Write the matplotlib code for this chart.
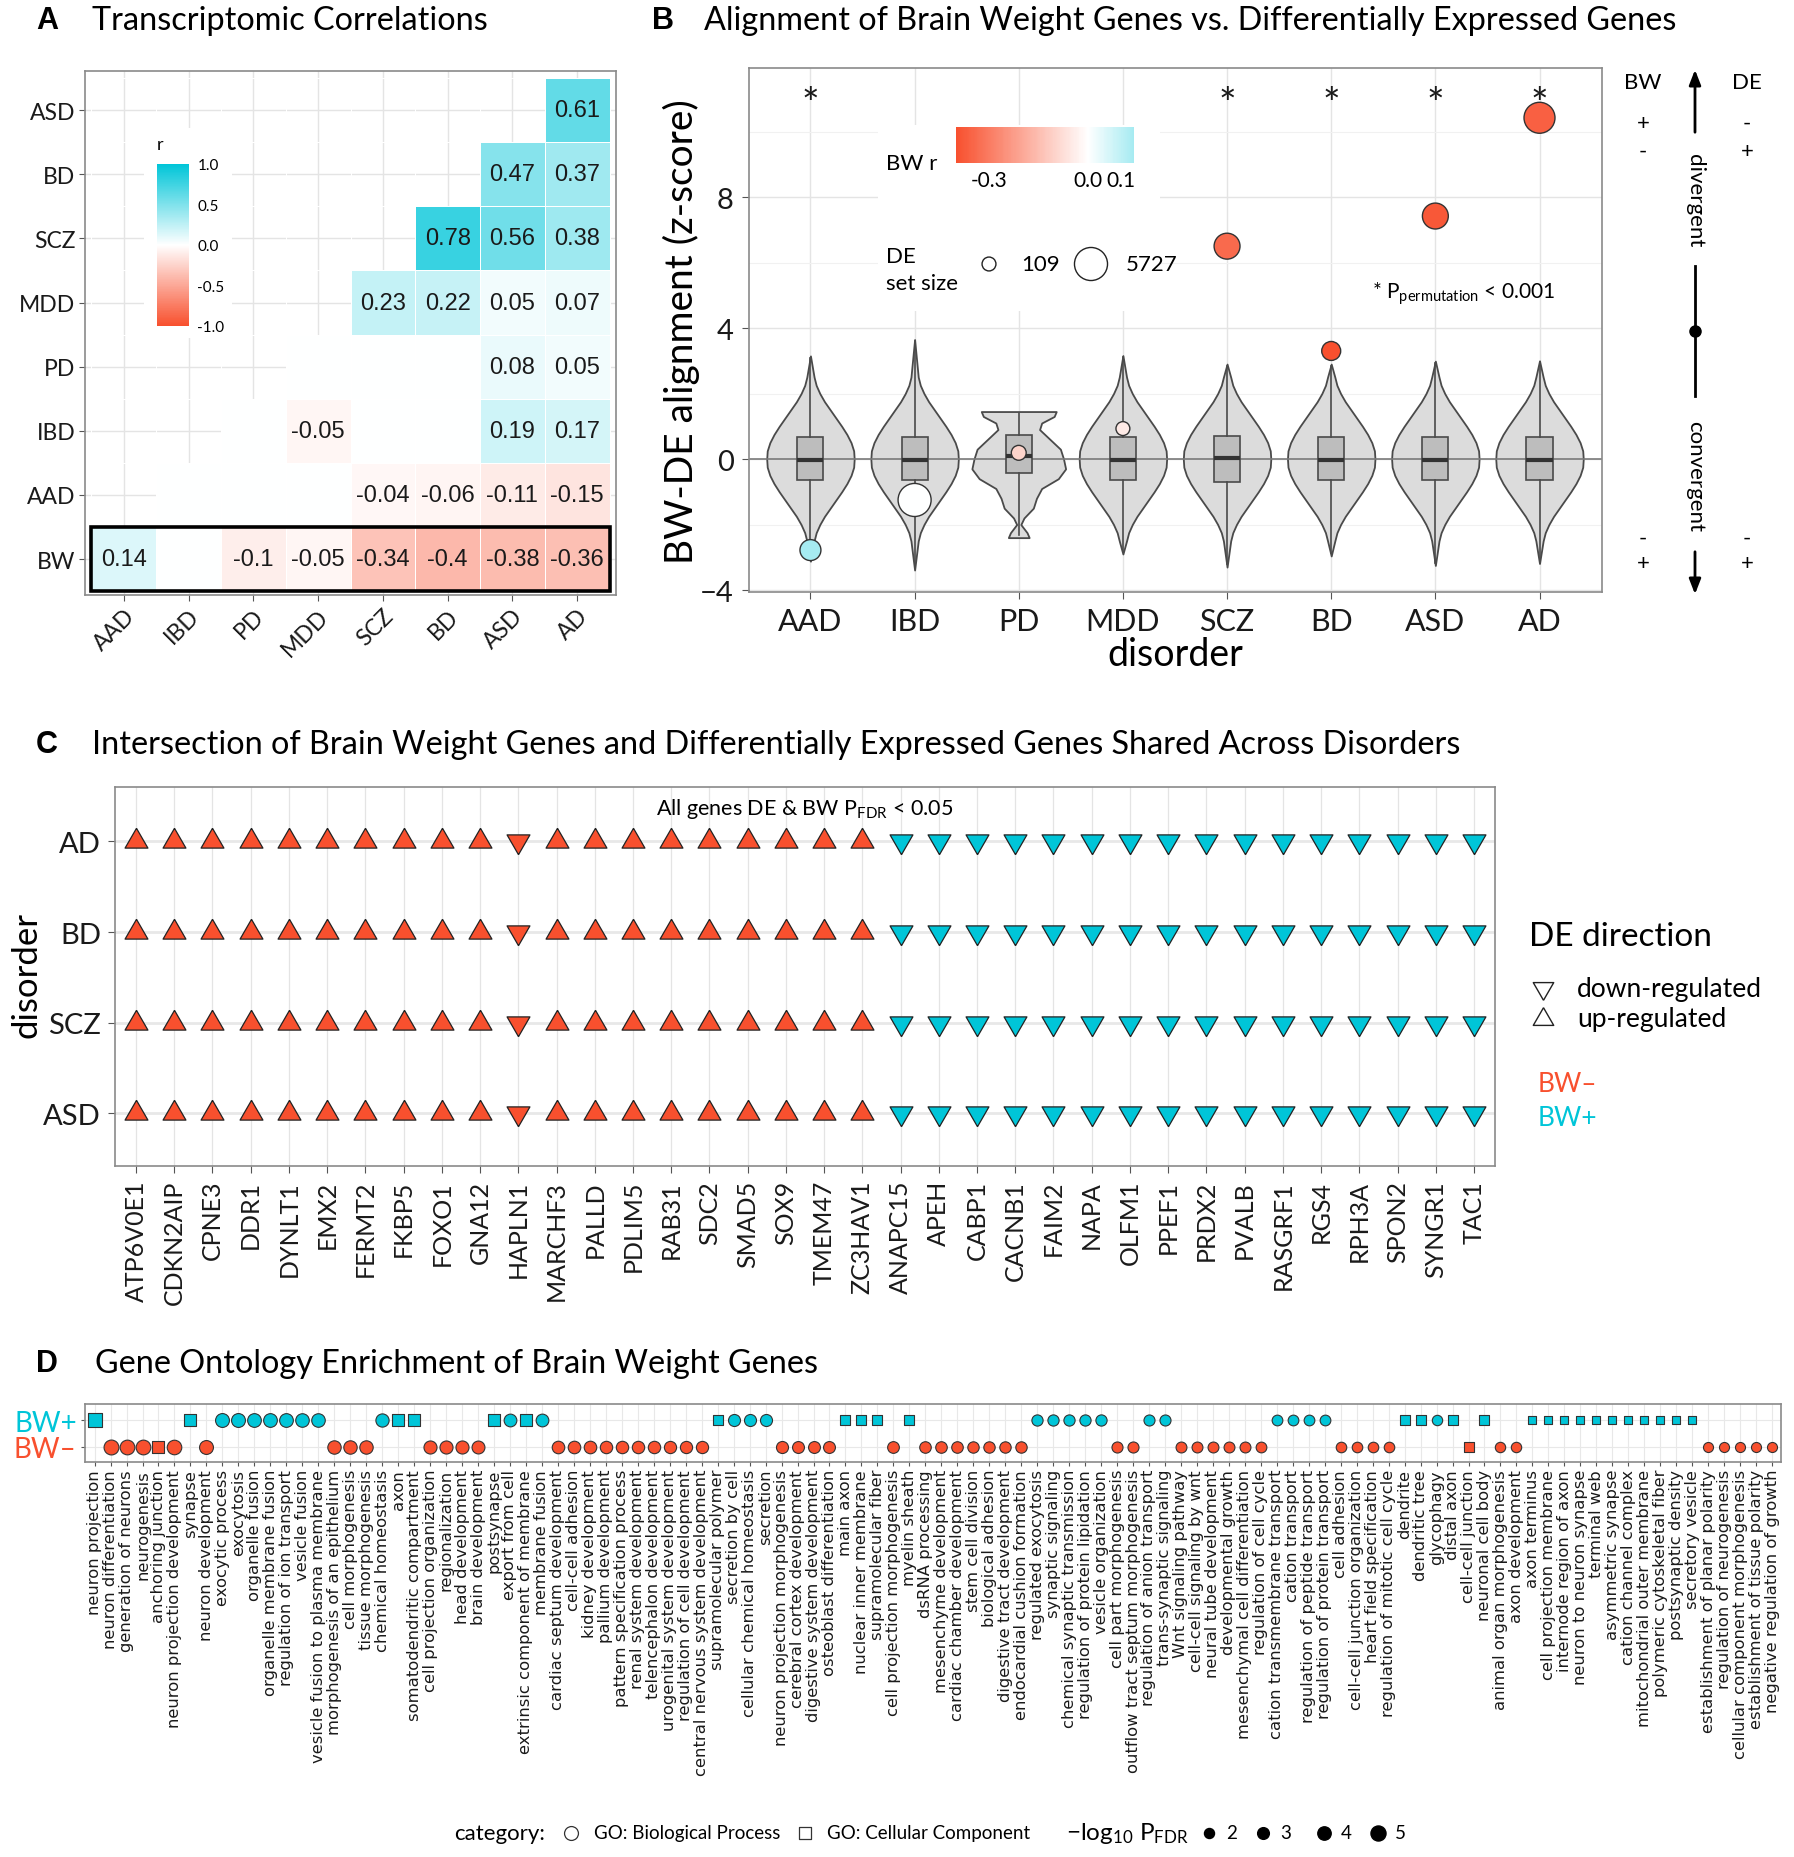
import numpy as np
import matplotlib.pyplot as plt
import matplotlib as mpl
from matplotlib.colors import LinearSegmentedColormap, Normalize
from matplotlib.patches import Rectangle

plt.rcParams['font.family'] = ['Lato', 'DejaVu Sans']
plt.rcParams['mathtext.fontset'] = 'custom'
plt.rcParams['mathtext.rm'] = 'Lato'
plt.rcParams['mathtext.it'] = 'Lato:italic'
plt.rcParams['mathtext.bf'] = 'Lato:bold'

RED = '#F8502E'
CYAN = '#00C5D8'
cmap_rw = LinearSegmentedColormap.from_list('rwc', [RED, 'white', CYAN])
nan = np.nan

# ---------------- A: transcriptomic correlations
a_cols = ['AAD', 'IBD', 'PD', 'MDD', 'SCZ', 'BD', 'ASD', 'AD']
a_rows = ['BW', 'AAD', 'IBD', 'PD', 'MDD', 'SCZ', 'BD', 'ASD']   # bottom to top
corr_r = [
    [0.14, nan, -0.1, -0.05, -0.34, -0.4, -0.38, -0.36],   # BW
    [nan, nan, nan, nan, -0.04, -0.06, -0.11, -0.15],       # AAD
    [nan, nan, nan, -0.05, nan, nan, 0.19, 0.17],           # IBD
    [nan, nan, nan, nan, nan, nan, 0.08, 0.05],             # PD
    [nan, nan, nan, nan, 0.23, 0.22, 0.05, 0.07],           # MDD
    [nan, nan, nan, nan, nan, 0.78, 0.56, 0.38],            # SCZ
    [nan, nan, nan, nan, nan, nan, 0.47, 0.37],             # BD
    [nan, nan, nan, nan, nan, nan, nan, 0.61],              # ASD
]

# ---------------- B: alignment z-scores
b_dis = ['AAD', 'IBD', 'PD', 'MDD', 'SCZ', 'BD', 'ASD', 'AD']
obs_z = [-2.78, -1.25, 0.19, 0.93, 6.5, 3.3, 7.42, 10.42]
bw_r = [0.14, 0.0, -0.1, -0.05, -0.34, -0.4, -0.38, -0.36]
de_size = [1650, 5727, 290, 109, 3100, 1150, 3100, 4900]
signif = [True, False, False, False, True, True, True, True]
null_top = [3.15, 3.65, 1.45, 3.16, 2.9, 2.9, 2.99, 3.0]
null_bot = [-3.12, -3.39, -2.4, -2.9, -3.3, -2.96, -3.25, -3.19]
box_q1 = [-0.65, -0.65, -0.44, -0.65, -0.69, -0.65, -0.65, -0.63]
box_med = [-0.03, -0.03, 0.1, -0.03, 0.03, -0.03, -0.03, -0.03]
box_q3 = [0.66, 0.66, 0.72, 0.66, 0.69, 0.66, 0.66, 0.66]
# violin half-width profile of the null distributions
core_z = [2.5, 2.25, 2.0, 1.75, 1.5, 1.25, 1.0, 0.75, 0.5, 0.25, 0.0,
          -0.25, -0.5, -0.75, -1.0, -1.25, -1.5, -1.75, -2.0, -2.25, -2.5]
core_w = [0.035, 0.055, 0.09, 0.135, 0.19, 0.245, 0.30, 0.35, 0.39, 0.415, 0.42,
          0.415, 0.39, 0.35, 0.30, 0.245, 0.19, 0.135, 0.09, 0.055, 0.035]
pd_z = [1.45, 1.3, 1.1, 0.9, 0.6, 0.3, 0.0, -0.3, -0.6, -0.9, -1.2, -1.5, -1.8, -2.0, -2.25, -2.4]
pd_w = [0.36, 0.34, 0.22, 0.2, 0.3, 0.4, 0.43, 0.45, 0.38, 0.22, 0.17, 0.14, 0.05, 0.02, 0.08, 0.1]

# ---------------- C: shared genes
genes = ['ATP6V0E1', 'CDKN2AIP', 'CPNE3', 'DDR1', 'DYNLT1', 'EMX2', 'FERMT2', 'FKBP5',
         'FOXO1', 'GNA12', 'HAPLN1', 'MARCHF3', 'PALLD', 'PDLIM5', 'RAB31', 'SDC2',
         'SMAD5', 'SOX9', 'TMEM47', 'ZC3HAV1', 'ANAPC15', 'APEH', 'CABP1', 'CACNB1',
         'FAIM2', 'NAPA', 'OLFM1', 'PPEF1', 'PRDX2', 'PVALB', 'RASGRF1', 'RGS4',
         'RPH3A', 'SPON2', 'SYNGR1', 'TAC1']
gene_bw = list('--------------------' '++++++++++++++++')
gene_dir = list('uuuuuuuuuuduuuuuuuuu' 'dddddddddddddddd')
c_dis = ['ASD', 'SCZ', 'BD', 'AD']   # bottom to top

# ---------------- D: GO enrichment
go_terms = [
    'neuron projection', 'neuron differentiation', 'generation of neurons', 'neurogenesis', 'anchoring junction',
    'neuron projection development', 'synapse', 'neuron development', 'exocytic process', 'exocytosis',
    'organelle fusion', 'organelle membrane fusion', 'regulation of ion transport', 'vesicle fusion', 'vesicle fusion to plasma membrane',
    'morphogenesis of an epithelium', 'cell morphogenesis', 'tissue morphogenesis', 'chemical homeostasis', 'axon',
    'somatodendritic compartment', 'cell projection organization', 'regionalization', 'head development', 'brain development',
    'postsynapse', 'export from cell', 'extrinsic component of membrane', 'membrane fusion', 'cardiac septum development',
    'cell-cell adhesion', 'kidney development', 'pallium development', 'pattern specification process', 'renal system development',
    'telencephalon development', 'urogenital system development', 'regulation of cell development', 'central nervous system development', 'supramolecular polymer',
    'secretion by cell', 'cellular chemical homeostasis', 'secretion', 'neuron projection morphogenesis', 'cerebral cortex development',
    'digestive system development', 'osteoblast differentiation', 'main axon', 'nuclear inner membrane', 'supramolecular fiber',
    'cell projection morphogenesis', 'myelin sheath', 'dsRNA processing', 'mesenchyme development', 'cardiac chamber development',
    'stem cell division', 'biological adhesion', 'digestive tract development', 'endocardial cushion formation', 'regulated exocytosis',
    'synaptic signaling', 'chemical synaptic transmission', 'regulation of protein lipidation', 'vesicle organization', 'cell part morphogenesis',
    'outflow tract septum morphogenesis', 'regulation of anion transport', 'trans-synaptic signaling', 'Wnt signaling pathway', 'cell-cell signaling by wnt',
    'neural tube development', 'developmental growth', 'mesenchymal cell differentiation', 'regulation of cell cycle', 'cation transmembrane transport',
    'cation transport', 'regulation of peptide transport', 'regulation of protein transport', 'cell adhesion', 'cell-cell junction organization',
    'heart field specification', 'regulation of mitotic cell cycle', 'dendrite', 'dendritic tree', 'glycophagy',
    'distal axon', 'cell-cell junction', 'neuronal cell body', 'animal organ morphogenesis', 'axon development',
    'axon terminus', 'cell projection membrane', 'internode region of axon', 'neuron to neuron synapse', 'terminal web',
    'asymmetric synapse', 'cation channel complex', 'mitochondrial outer membrane', 'polymeric cytoskeletal fiber', 'postsynaptic density',
    'secretory vesicle', 'establishment of planar polarity', 'regulation of neurogenesis', 'cellular component morphogenesis', 'establishment of tissue polarity',
    'negative regulation of growth']
go_dir = ('+' '-----' '+' '-' '+++++++' '---' '+++' '----' '++++' '----------'
          '++++' '----' '+++' '-' '+' '-------' '+++++' '--' '++' '------'
          '++++' '----' '++++' '-' '+' '--' '+++++++++++' '-----')
go_cat = ('C' 'BBB' 'C' 'B' 'C' 'BBBBBBBBBBBB' 'CC' 'BBBB' 'C' 'B' 'C' 'BBBBBBBBBBB'
          'C' 'BBBBBBB' 'CCC' 'B' 'C' 'BBBBBBBBBB' 'BBBBBBBBBB' 'BBBBBBBBBB'
          'CC' 'B' 'CCC' 'BB' 'CCCCCCCCCCC' 'BBBBB')
go_logp = [
    6.0, 4.9, 4.8, 4.8, 4.8, 4.7, 4.6, 4.3, 4.3, 4.3,
    4.2, 4.2, 4.2, 4.1, 4.1, 4.0, 4.0, 4.0, 3.9, 3.9,
    3.9, 3.8, 3.8, 3.8, 3.7, 3.7, 3.6, 3.6, 3.6, 3.5,
    3.5, 3.5, 3.4, 3.4, 3.4, 3.4, 3.3, 3.3, 3.3, 3.3,
    3.2, 3.2, 3.2, 3.2, 3.1, 3.1, 3.1, 3.1, 3.0, 3.0,
    3.0, 3.0, 2.9, 2.9, 2.9, 2.8, 2.8, 2.8, 2.8, 2.7,
    2.7, 2.7, 2.7, 2.7, 2.6, 2.6, 2.6, 2.6, 2.5, 2.5,
    2.5, 2.5, 2.5, 2.4, 2.4, 2.4, 2.4, 2.4, 2.3, 2.3,
    2.3, 2.3, 2.3, 2.3, 2.2, 2.2, 2.2, 2.2, 2.2, 2.2,
    2.1, 2.1, 2.1, 2.1, 2.1, 2.1, 2.1, 2.1, 2.1, 2.0,
    2.0, 2.0, 2.0, 2.0, 2.0, 2.0]
logp_legend = [2, 3, 4, 5]

# ======================================================================
W, H = 1794, 1858
fig = plt.figure(figsize=(W / 100, H / 100), dpi=100)


def px_axes(l, t, r, b):
    return fig.add_axes([l / W, 1 - b / H, (r - l) / W, (b - t) / H])


# overlay in pixel coordinates for titles, axis labels and legends
ov = fig.add_axes([0, 0, 1, 1])
ov.set_xlim(0, W)
ov.set_ylim(H, 0)
ov.axis('off')
ov.set_zorder(5)

GRID = '#E4E4E4'
BORDER = '#8A8A8A'
TXT = '#1A1A1A'
LETTER = dict(fontsize=22, fontweight='bold', family='Liberation Sans', va='center')
TITLE = 23.3

# titles
ov.text(36, 21, 'A', **LETTER)
ov.text(92, 21, 'Transcriptomic Correlations', fontsize=TITLE, va='center')
ov.text(652, 21, 'B', **LETTER)
ov.text(704, 21, 'Alignment of Brain Weight Genes vs. Differentially Expressed Genes', fontsize=TITLE, va='center')
ov.text(36, 745, 'C', **LETTER)
ov.text(92, 745, 'Intersection of Brain Weight Genes and Differentially Expressed Genes Shared Across Disorders',
        fontsize=TITLE, va='center')
ov.text(36, 1364, 'D', **LETTER)
ov.text(95, 1364, 'Gene Ontology Enrichment of Brain Weight Genes', fontsize=TITLE, va='center')

# ---------------- panel A
axA = px_axes(85, 72, 616, 596)
vals = np.array(corr_r, dtype=float)
nr, nc = vals.shape
ri, ci = np.indices(vals.shape)
tile = np.where(ci >= ri, np.nan_to_num(vals, nan=0.0), np.nan)
axA.pcolormesh(np.arange(nc + 1) - 0.5, np.arange(nr + 1) - 0.5, np.ma.masked_invalid(tile),
               cmap=cmap_rw, vmin=-1, vmax=1, edgecolors='white', linewidth=0.6, zorder=2)
for r in range(nr):
    for c in range(nc):
        if not np.isnan(vals[r, c]):
            axA.text(c, r, f'{vals[r, c]:g}', ha='center', va='center', fontsize=17,
                     family='Liberation Sans', color=TXT, zorder=3)
axA.add_patch(Rectangle((-0.5, -0.5), nc, 1, fill=False, ec='black', lw=2.6, zorder=4))
axA.add_patch(Rectangle((0.31, 3.45), 1.36, 3.27, fc='white', ec='none', zorder=1))
axA.set_xlim(-0.6, 7.6)
axA.set_ylim(-0.56, 7.61)
axA.set_xticks(range(nc))
axA.set_xticklabels(a_cols, rotation=45, ha='right', rotation_mode='anchor')
axA.set_yticks(range(nr))
axA.set_yticklabels(a_rows)
axA.set_axisbelow(True)
axA.grid(True, color=GRID, lw=1.0)
axA.tick_params(length=4, color='#555555', labelsize=16.5, labelcolor=TXT, pad=3)
for s in axA.spines.values():
    s.set_color(BORDER)
    s.set_linewidth(1.2)

caxA = px_axes(157, 165, 189, 327)
cbA = mpl.colorbar.ColorbarBase(caxA, cmap=cmap_rw, norm=Normalize(-1, 1),
                                ticks=[-1, -0.5, 0, 0.5, 1])
cbA.set_ticklabels(['-1.0', '-0.5', '0.0', '0.5', '1.0'])
cbA.outline.set_visible(False)
caxA.tick_params(length=0, labelsize=11, pad=6)
ov.text(160, 145, 'r', fontsize=13, ha='center', va='center')

# ---------------- panel B
axB = px_axes(749, 69, 1602, 593)
xb = np.arange(len(b_dis))
axB.set_xlim(-0.59, 7.6)
axB.set_ylim(-4.06, 11.94)
axB.set_yticks([-4, 0, 4, 8])
axB.set_yticks([-2, 2, 6, 10], minor=True)
axB.set_xticks(xb)
axB.set_xticklabels(b_dis)
axB.set_axisbelow(True)
axB.grid(True, which='major', color=GRID, lw=1.0)
axB.grid(True, which='minor', axis='y', color='#F1F1F1', lw=0.8)
axB.tick_params(which='major', length=5, color='#555555', labelsize=22, labelcolor=TXT, pad=6)
axB.tick_params(axis='y', labelsize=21)
axB.tick_params(which='minor', length=0)
for s in axB.spines.values():
    s.set_color(BORDER)
    s.set_linewidth(1.2)

for i in range(len(b_dis)):
    if b_dis[i] == 'PD':
        zs, ws = pd_z, pd_w
    else:
        zs = [null_top[i]] + core_z + [null_bot[i]]
        ws = [0.0] + core_w + [0.0]
    zs = np.array(zs)
    ws = np.array(ws)
    axB.fill_betweenx(zs, xb[i] - ws, xb[i] + ws, facecolor='#DCDCDC', edgecolor='#4A4A4A',
                      lw=1.3, zorder=2)

axB.axhline(0, color='#7A7A7A', lw=1.2, zorder=2.5)
stats = [dict(q1=box_q1[i], med=box_med[i], q3=box_q3[i],
              whislo=null_bot[i] + 0.08, whishi=null_top[i] - 0.05, fliers=[])
         for i in range(len(b_dis))]
axB.bxp(stats, positions=xb, widths=0.25, showcaps=False, patch_artist=True, manage_ticks=False,
        boxprops=dict(facecolor='#BDBDBD', edgecolor='#4A4A4A', lw=1.2),
        whiskerprops=dict(color='#4A4A4A', lw=1.2),
        medianprops=dict(color='#333333', lw=3), zorder=3)

bnorm = Normalize(-0.4, 0.4)


def de_s(n):
    return 100 + (n - 109) / 5618 * 466


axB.scatter(xb, obs_z, s=[de_s(n) for n in de_size], c=[cmap_rw(bnorm(v)) for v in bw_r],
            edgecolors='#333333', linewidths=1.0, zorder=5)
for i in range(len(b_dis)):
    if signif[i]:
        axB.text(xb[i], 10.8, '*', ha='center', va='center', fontsize=30, color=TXT)
axB.add_patch(Rectangle((0.65, 4.52), 2.71, 5.68, fc='white', ec='none', zorder=1))

ov.text(681, 332, 'BW-DE alignment (z-score)', rotation=90, fontsize=28, ha='center', va='center')
ov.text(1175, 655, 'disorder', fontsize=27, ha='center', va='center')

caxB = px_axes(956, 128, 1134, 164)
cbB = mpl.colorbar.ColorbarBase(caxB, cmap=cmap_rw, norm=bnorm, orientation='horizontal',
                                boundaries=np.linspace(-0.4, 0.14, 200), ticks=[-0.3, 0.0, 0.1])
cbB.set_ticklabels(['-0.3', '0.0', '0.1'])
cbB.outline.set_visible(False)
caxB.tick_params(length=0, labelsize=15, pad=5)
ov.text(886, 164, 'BW r', fontsize=16, va='center')
ov.text(886, 257, 'DE', fontsize=16, va='center')
ov.text(886, 284, 'set size', fontsize=16, va='center')
ov.scatter([989, 1091], [265, 265], s=[de_s(109), de_s(5727)], facecolors='white',
           edgecolors='#222222', linewidths=1.0)
ov.text(1021, 265, '109', fontsize=16, va='center')
ov.text(1126, 265, '5727', fontsize=16, va='center')
ov.text(1372, 294, r'* $\mathrm{P_{permutation}}$ < 0.001', fontsize=15, va='center')

# right-hand direction key
ov.text(1643, 83, 'BW', fontsize=16, ha='center', va='center')
ov.text(1747, 83, 'DE', fontsize=16, ha='center', va='center')
for x, top, bot in [(1643, '+', '-'), (1747, '-', '+')]:
    ov.text(x, 124, top, fontsize=16, ha='center', va='center')
    ov.text(x, 152, bot, fontsize=16, ha='center', va='center')
    ov.text(x, 539, '-', fontsize=16, ha='center', va='center')
    ov.text(x, 564, '+', fontsize=16, ha='center', va='center')
ov.annotate('', xy=(1695, 68), xytext=(1695, 136),
            arrowprops=dict(arrowstyle='-|>,head_length=0.9,head_width=0.35', lw=2, color='black'))
ov.annotate('', xy=(1695, 598), xytext=(1695, 550),
            arrowprops=dict(arrowstyle='-|>,head_length=0.9,head_width=0.35', lw=2, color='black'))
ov.plot([1695, 1695], [267, 397], color='black', lw=2)
ov.plot([1695], [332], 'o', color='black', ms=8)
ov.text(1695, 201, 'divergent', rotation=-90, fontsize=16, ha='center', va='center')
ov.text(1695, 476, 'convergent', rotation=-90, fontsize=16, ha='center', va='center')

# ---------------- panel C
axC = px_axes(115, 788, 1495, 1167)
xg = np.arange(len(genes))
axC.set_xlim(-0.55, len(genes) - 0.45)
axC.set_ylim(-0.58, 3.6)
axC.set_xticks(xg)
axC.set_xticklabels(genes, rotation=90)
axC.set_yticks(range(len(c_dis)))
axC.set_yticklabels(c_dis)
axC.set_axisbelow(True)
axC.grid(True, axis='x', color=GRID, lw=0.9)
axC.grid(True, axis='y', color='#E8E8E8', lw=2.0)
axC.tick_params(length=5, color='#555555', labelcolor=TXT, pad=5)
axC.tick_params(axis='x', labelsize=18)
axC.tick_params(axis='y', labelsize=21)
for s in axC.spines.values():
    s.set_color(BORDER)
    s.set_linewidth(1.2)

# triangles centred on their centroid, like ggplot shapes 24/25
UP = [(0, 1), (-0.866, -0.5), (0.866, -0.5), (0, 1)]
DOWN = [(0, -1), (-0.866, 0.5), (0.866, 0.5), (0, -1)]
for j in range(len(c_dis)):
    for i in range(len(genes)):
        axC.scatter([xg[i]], [j], marker=UP if gene_dir[i] == 'u' else DOWN, s=19 ** 2,
                    c=RED if gene_bw[i] == '-' else CYAN, edgecolors='#222222', linewidths=0.9,
                    zorder=3)
ov.text(26, 975, 'disorder', rotation=90, fontsize=25, ha='center', va='center')
ov.text(805, 809, r'All genes DE & BW $\mathrm{P_{FDR}}$ < 0.05', fontsize=15.5, ha='center', va='center')

ov.text(1529, 937, 'DE direction', fontsize=24, va='center')
ov.scatter([1543], [989], marker=DOWN, s=17 ** 2, facecolors='white', edgecolors='#222222', linewidths=1)
ov.scatter([1543], [1020], marker=UP, s=17 ** 2, facecolors='white', edgecolors='#222222', linewidths=1)
ov.text(1577, 989, 'down-regulated', fontsize=19, va='center')
ov.text(1577, 1020, 'up-regulated', fontsize=19, va='center')
ov.text(1538, 1085, 'BW\u2013', fontsize=19, va='center', color=RED)
ov.text(1538, 1119, 'BW+', fontsize=19, va='center', color=CYAN)

# ---------------- panel D
axD = px_axes(85, 1405, 1781, 1463)
xt = np.arange(len(go_terms))
axD.set_xlim(-0.6, len(go_terms) - 0.44)
axD.set_ylim(-0.56, 1.6)
axD.set_xticks(xt)
axD.set_xticklabels(go_terms, rotation=90, family='DejaVu Sans')
axD.set_yticks([0, 1])
axD.set_yticklabels(['BW\u2013', 'BW+'])
axD.set_axisbelow(True)
axD.grid(True, color='#E8E8E8', lw=0.8)
axD.tick_params(length=3, color='#555555', labelcolor=TXT, pad=2)
axD.tick_params(axis='x', labelsize=11.8)
axD.tick_params(axis='y', labelsize=20, pad=3)
for lab, col in zip(axD.get_yticklabels(), [RED, CYAN]):
    lab.set_color(col)
for s in axD.spines.values():
    s.set_color(BORDER)
    s.set_linewidth(1.2)


def logp_ms(v, cat):
    d = (6.7 + 1.67 * v) / 1.389
    return d * (0.88 if cat == 'C' else 1.0)


for i in range(len(go_terms)):
    up = go_dir[i] == '+'
    axD.scatter([xt[i]], [1 if up else 0], marker='s' if go_cat[i] == 'C' else 'o',
                s=logp_ms(go_logp[i], go_cat[i]) ** 2, c=CYAN if up else RED,
                edgecolors='#333333', linewidths=0.8, zorder=3)

# D legend
ly = 1834
ov.text(454, ly, 'category:', fontsize=16, va='center')
ov.scatter([571], [ly], marker='o', s=10 ** 2, facecolors='white', edgecolors='#333333', linewidths=0.9)
ov.text(594, ly, 'GO: Biological Process', fontsize=13.5, va='center')
ov.scatter([805], [ly], marker='s', s=9 ** 2, facecolors='white', edgecolors='#333333', linewidths=0.9)
ov.text(827, ly, 'GO: Cellular Component', fontsize=13.5, va='center')
ov.text(1066, ly, r'$-\mathrm{log_{10}\ P_{FDR}}$', fontsize=17.5, va='center')
for x, v in zip([1209, 1263, 1324, 1378], logp_legend):
    ov.scatter([x], [ly], marker='o', s=logp_ms(v, 'B') ** 2, c='black')
    ov.text(x + 17, ly, str(v), fontsize=13.5, va='center')

fig.savefig('out.png', dpi=100)
